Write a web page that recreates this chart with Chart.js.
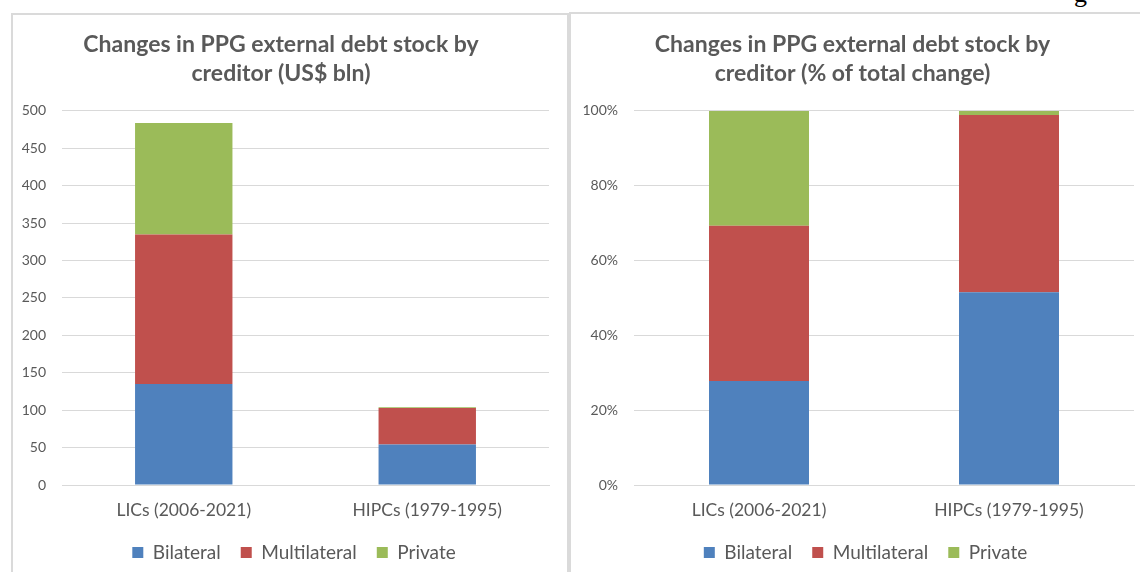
<!DOCTYPE html>
<html>
<head>
<meta charset="utf-8">
<script src="https://cdn.jsdelivr.net/npm/chart.js@4.4.1/dist/chart.umd.min.js"></script>
<style>
  html, body { margin:0; padding:0; background:#fff; width:1140px; height:572px; overflow:hidden; position:relative; }
  .panel { position:absolute; border:2px solid #dadada; background:#fff; box-sizing:border-box; }
  canvas { position:absolute; }
  #gtext { position:absolute; left:1074px; top:-19px; font:26px 'Liberation Serif', serif; line-height:26px; color:#000; }
</style>
</head>
<body>
<div id="gtext">g</div>
<div class="panel" style="left:11px; top:13px; width:558px; height:620px;"></div>
<div class="panel" style="left:569px; top:12px; width:600px; height:620px;"></div>
<canvas id="c1" width="554" height="557" style="left:13px; top:15px;"></canvas>
<canvas id="c2" width="580" height="557" style="left:571px; top:15px;"></canvas>
<script>
// ---- data ----
const categories = ['LICs (2006-2021)', 'HIPCs (1979-1995)'];
const seriesNames = ['Bilateral', 'Multilateral', 'Private'];
const seriesColors = ['#4F81BD', '#C0504D', '#9BBB59'];

// US$ bln
const usdBilateral = [135, 54];
const usdMultilateral = [200, 49];
const usdPrivate = [149, 1];

// % of total change
const pctBilateral = [27.8, 51.5];
const pctMultilateral = [41.5, 47.4];
const pctPrivate = [30.7, 1.1];

const usdTicks = [0, 50, 100, 150, 200, 250, 300, 350, 400, 450, 500];
const pctTicks = [0, 20, 40, 60, 80, 100];

const title1 = ['Changes in PPG external debt stock by', 'creditor (US$ bln)'];
const title2 = ['Changes in PPG external debt stock by', 'creditor (% of total change)'];

const TXT = '#595959';
const GRID = '#d9d9d9';
const FONT = 'Lato';

function makeDatasets(series) {
  return series.map((vals, i) => ({
    label: seriesNames[i],
    data: vals,
    backgroundColor: seriesColors[i],
    borderWidth: 0,
    barPercentage: 0.4,
    categoryPercentage: 1.0
  }));
}

function makeChart(id, series, titleLines, ticksArr, yMax, axisWidth, rightPad, legendShift, isPct) {
  return new Chart(document.getElementById(id), {
    type: 'bar',
    data: { labels: categories, datasets: makeDatasets(series) },
    plugins: [{
      id: 'shiftLegend',
      afterLayout(chart) {
        if (chart.legend) { chart.legend.left += legendShift; chart.legend.right += legendShift; }
      }
    }],
    options: {
      responsive: false,
      animation: false,
      devicePixelRatio: 1,
      layout: { padding: { left: 0, right: rightPad, top: 0, bottom: 0 } },
      plugins: {
        title: {
          display: true, text: titleLines, color: TXT,
          font: { family: FONT, size: 23, weight: 'bold', lineHeight: 1.26 },
          padding: { top: 15, bottom: 23 }
        },
        legend: {
          position: 'bottom',
          labels: { boxWidth: 11, boxHeight: 11, padding: 20, color: TXT, font: { family: FONT, size: 19 } }
        },
        tooltip: { enabled: false }
      },
      scales: {
        x: {
          stacked: true,
          grid: { display: false, drawTicks: false },
          border: { display: true, color: GRID },
          afterFit: (scale) => { scale.height = 38; },
          ticks: { color: TXT, font: { family: FONT, size: 17.5 }, padding: 15, maxRotation: 0 }
        },
        y: {
          stacked: true, min: 0, max: yMax,
          grid: { color: GRID, drawTicks: false },
          border: { display: false },
          afterBuildTicks: (scale) => { scale.ticks = ticksArr.map(v => ({ value: v })); },
          afterFit: (scale) => { scale.width = axisWidth; },
          ticks: {
            color: TXT, font: { family: FONT, size: 14 }, padding: 16,
            callback: (v) => isPct ? v + '%' : String(v)
          }
        }
      }
    }
  });
}

makeChart('c1', [usdBilateral, usdMultilateral, usdPrivate], title1, usdTicks, 500, 49, 18, 13, false);
makeChart('c2', [pctBilateral, pctMultilateral, pctPrivate], title2, pctTicks, 100, 63, 17, 13, true);
</script>
</body>
</html>
